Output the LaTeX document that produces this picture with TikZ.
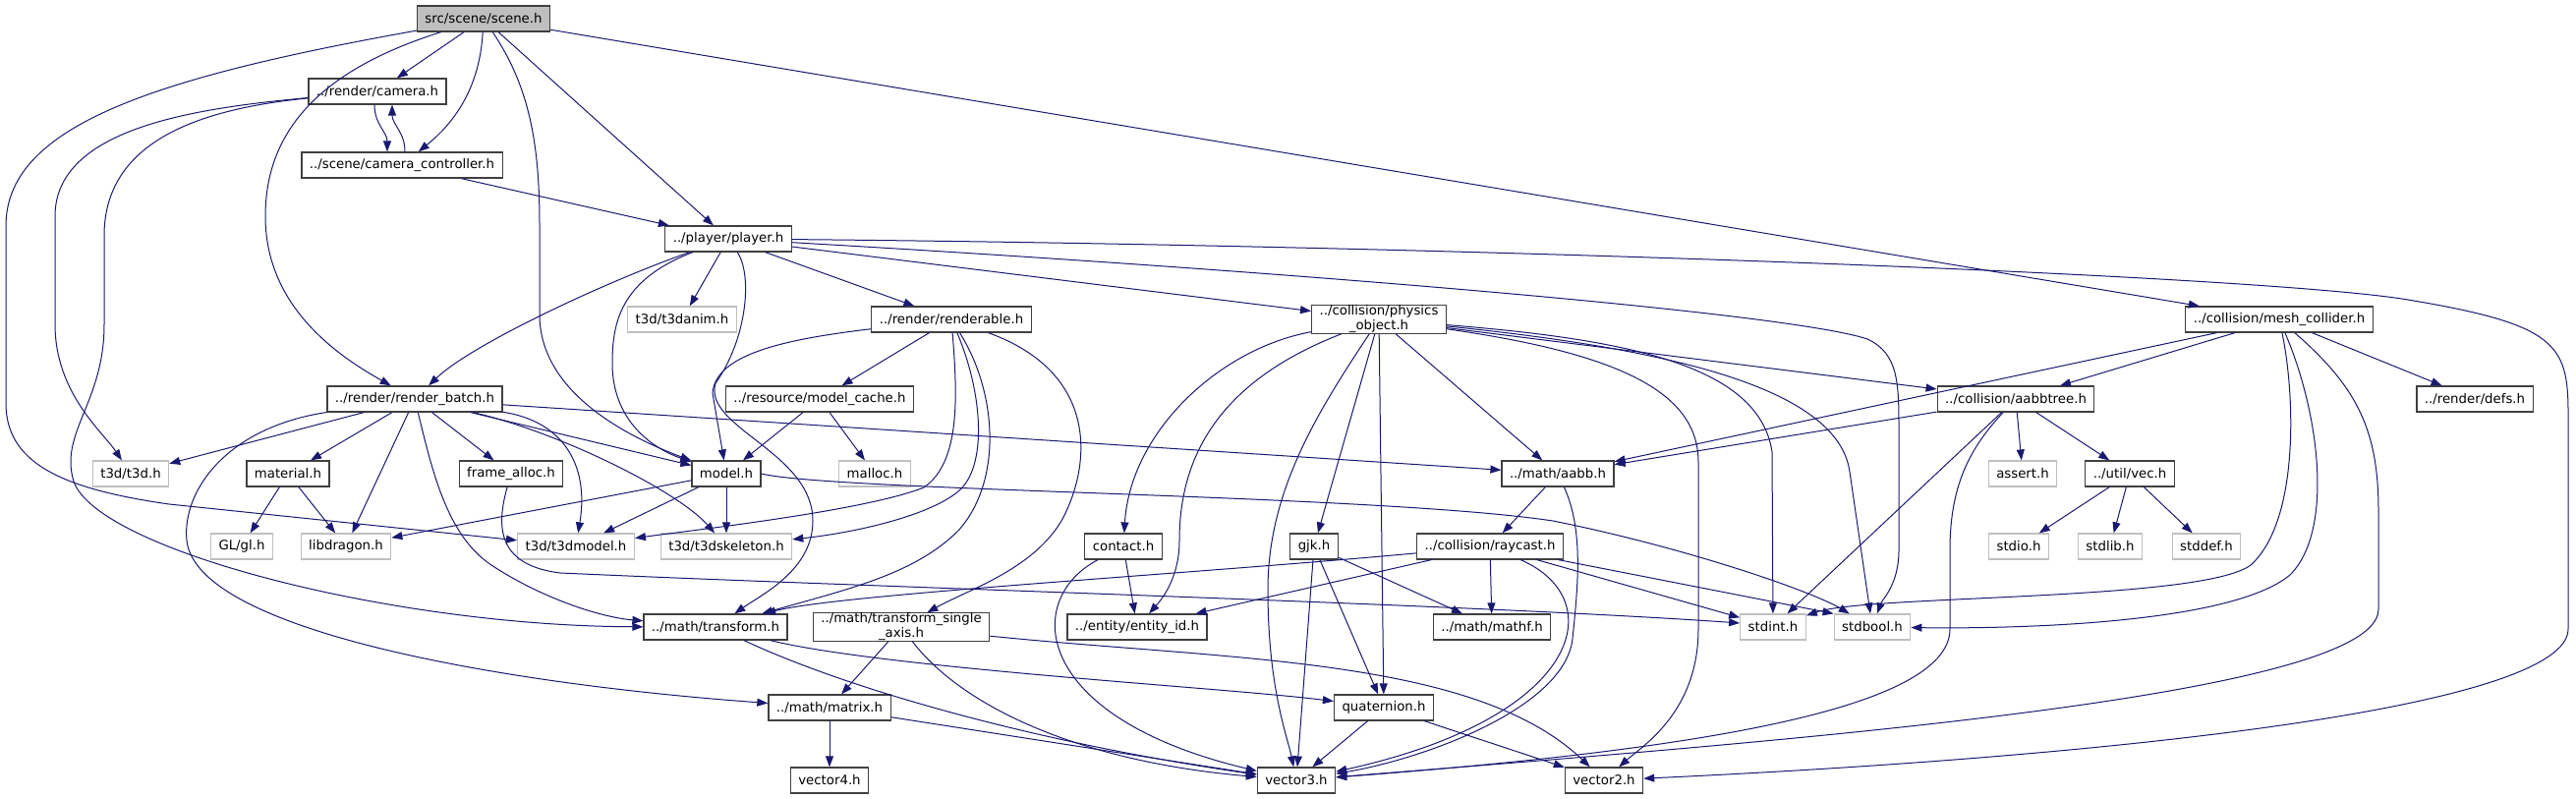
\documentclass[tikz,border=0pt]{standalone}
\usepackage{fontspec}
\newfontfamily\doxfont{DejaVu Sans}
\usetikzlibrary{arrows.meta}
\definecolor{edgeblue}{HTML}{191970}
\definecolor{boxgray}{HTML}{BFBFBF}
\definecolor{boxline}{HTML}{404040}
\tikzset{
  hdr/.style={rectangle,draw=boxline,line width=1.2pt,fill=white,align=center,
    font=\doxfont\fontsize{13.3}{15}\selectfont,inner xsep=8pt,inner ysep=0pt,minimum height=26pt},
  syshdr/.style={hdr,draw=boxgray},
  roothdr/.style={hdr,fill=boxgray},
  dep/.style={draw=edgeblue,line width=1pt,-{Triangle[length=11pt,width=8pt]}}
}
\begin{document}
\begin{tikzpicture}[x=1pt,y=-1pt]
\useasboundingbox (0,0) rectangle (2621,813);
\node[roothdr] (scene) at (492,19) {src/scene/scene.h};
\node[hdr] (camera) at (384,93) {../render/camera.h};
\node[hdr] (camctrl) at (409,168) {../scene/camera\_controller.h};
\node[hdr] (player) at (741,243) {../player/player.h};
\node[syshdr] (t3danim) at (694,325) {t3d/t3danim.h};
\node[hdr] (renderable) at (968,325) {../render/renderable.h};
\node[hdr] (physobj) at (1403,325) {../collision/physics\\\_object.h};
\node[hdr] (meshcol) at (2319,325) {../collision/mesh\_collider.h};
\node[hdr] (renderbatch) at (422,406) {../render/render\_batch.h};
\node[hdr] (modelcache) at (834,406) {../resource/model\_cache.h};
\node[hdr] (aabbtree) at (2051,406) {../collision/aabbtree.h};
\node[hdr] (defs) at (2518,406) {../render/defs.h};
\node[syshdr] (t3d) at (133,482) {t3d/t3d.h};
\node[hdr] (material) at (293,482) {material.h};
\node[hdr] (framealloc) at (520,482) {frame\_alloc.h};
\node[hdr] (model) at (739,482) {model.h};
\node[syshdr] (malloc) at (890,482) {malloc.h};
\node[hdr] (aabb) at (1585,482) {../math/aabb.h};
\node[syshdr] (assert) at (2058,482) {assert.h};
\node[hdr] (vec) at (2167,482) {../util/vec.h};
\node[syshdr] (gl) at (246,556) {GL/gl.h};
\node[syshdr] (libdragon) at (352,556) {libdragon.h};
\node[syshdr] (t3dmodel) at (586,556) {t3d/t3dmodel.h};
\node[syshdr] (t3dskel) at (739,556) {t3d/t3dskeleton.h};
\node[hdr] (contact) at (1143,556) {contact.h};
\node[hdr] (gjk) at (1337,556) {gjk.h};
\node[hdr] (raycast) at (1516,556) {../collision/raycast.h};
\node[syshdr] (stdio) at (2054,556) {stdio.h};
\node[syshdr] (stdlib) at (2147,556) {stdlib.h};
\node[syshdr] (stddef) at (2245,556) {stddef.h};
\node[hdr] (transform) at (728,638) {../math/transform.h};
\node[hdr] (tsa) at (917,638) {../math/transform\_single\\\_axis.h};
\node[hdr] (entityid) at (1157,638) {../entity/entity\_id.h};
\node[hdr] (mathf) at (1518,638) {../math/mathf.h};
\node[syshdr] (stdint) at (1804,638) {stdint.h};
\node[syshdr] (stdbool) at (1905,638) {stdbool.h};
\node[hdr] (matrix) at (844,720) {../math/matrix.h};
\node[hdr] (quaternion) at (1408,720) {quaternion.h};
\node[hdr] (vector4) at (844,794) {vector4.h};
\node[hdr] (vector3) at (1319,794) {vector3.h};
\node[hdr] (vector2) at (1632,794) {vector2.h};

% scene.h
\draw[dep] (scene) .. controls (150,80) and (6,130) .. (6,230) -- (6,410) .. controls (6,470) and (60,497) .. (172,513) -- (t3dmodel);
\draw[dep] (scene) .. controls (330,70) and (270,130) .. (270,220) .. controls (270,310) and (340,360) .. (renderbatch);
\draw[dep] (scene) -- (camera);
\draw[dep] (scene) .. controls (488,90) and (462,125) .. (camctrl);
\draw[dep] (scene) .. controls (540,90) and (549,150) .. (549,230) -- (549,320) .. controls (549,400) and (640,445) .. (model);
\draw[dep] (scene) -- (player);
\draw[dep] (scene) -- (meshcol);
% camera.h
\draw[dep] ([xshift=-3pt]camera.south) .. controls +(0,20) and +(0,-20) .. ([xshift=-15pt]camctrl.north);
\draw[dep] ([xshift=3pt]camctrl.north) .. controls +(0,-20) and +(0,20) .. ([xshift=15pt]camera.south);
\draw[dep] (camera) .. controls (200,110) and (56,130) .. (56,220) -- (56,330) .. controls (56,400) and (105,440) .. (t3d);
\draw[dep] (camera) .. controls (190,112) and (106,150) .. (106,240) -- (106,330) .. controls (106,410) and (60,440) .. (75,490) .. controls (100,560) and (400,637) .. (transform);
\draw[dep] (camctrl) -- (player);
% player.h
\draw[dep] (player) .. controls (620,285) and (480,350) .. (renderbatch);
\draw[dep] (player) -- (t3danim);
\draw[dep] (player) .. controls (630,285) and (623,330) .. (623,370) .. controls (623,425) and (660,455) .. (model);
\draw[dep] (player) .. controls (766,280) and (760,345) .. (728,390) .. controls (715,435) and (827,460) .. (827,530) .. controls (827,580) and (775,605) .. (transform);
\draw[dep] (player) -- (renderable);
\draw[dep] (player) -- (physobj);
\draw[dep] (player) .. controls (1300,275) and (1820,318) .. (1900,345) .. controls (1932,360) and (1932,390) .. (1932,440) -- (1932,560) .. controls (1932,595) and (1915,610) .. (stdbool);
\draw[dep] (player) .. controls (1500,250) and (2300,280) .. (2450,305) .. controls (2600,330) and (2613,350) .. (2613,420) -- (2613,640) .. controls (2613,720) and (2150,770) .. (vector2);
% renderable.h
\draw[dep] (renderable) -- (modelcache);
\draw[dep] (renderable) .. controls (800,345) and (728,360) .. (725,400) -- (model);
\draw[dep] (renderable) .. controls (974,400) and (978,470) .. (940,496) .. controls (880,520) and (700,540) .. (t3dmodel);
\draw[dep] (renderable) .. controls (1000,400) and (1005,475) .. (975,500) .. controls (945,525) and (870,542) .. (t3dskel);
\draw[dep] (renderable) .. controls (1015,400) and (1020,490) .. (975,540) .. controls (930,585) and (860,600) .. (transform);
\draw[dep] (renderable) .. controls (1120,380) and (1110,475) .. (1080,530) .. controls (1050,580) and (985,600) .. (tsa);
\draw[dep] (modelcache) -- (model);
\draw[dep] (modelcache) -- (malloc);
% render_batch.h
\draw[dep] (renderbatch) -- (t3d);
\draw[dep] (renderbatch) -- (material);
\draw[dep] (renderbatch) -- (libdragon);
\draw[dep] (renderbatch) .. controls (440,480) and (455,545) .. (500,575) .. controls (550,608) and (610,628) .. (transform);
\draw[dep] (renderbatch) -- (framealloc);
\draw[dep] (renderbatch) -- (model);
\draw[dep] (renderbatch) .. controls (570,440) and (690,500) .. (t3dskel);
\draw[dep] (renderbatch) .. controls (570,428) and (600,470) .. (t3dmodel);
\draw[dep] (renderbatch) .. controls (230,435) and (185,500) .. (190,550) .. controls (200,640) and (500,695) .. (matrix);
\draw[dep] (renderbatch) -- (aabb);
\draw[dep] (material) -- (gl);
\draw[dep] (material) -- (libdragon);
\draw[dep] (framealloc) .. controls (505,535) and (505,575) .. (570,583) .. controls (900,598) and (1500,615) .. ([yshift=4pt]stdint.west);
% model.h
\draw[dep] (model) -- (libdragon);
\draw[dep] (model) -- (t3dmodel);
\draw[dep] (model) -- (t3dskel);
\draw[dep] (model.east) .. controls (850,500) and (1400,503) .. (1580,530) .. controls (1710,556) and (1840,600) .. (stdbool);
% aabb.h, raycast.h
\draw[dep] (aabb) -- (raycast);
\draw[dep] (aabb) .. controls (1612,540) and (1605,600) .. (1600,650) .. controls (1592,720) and (1450,772) .. (vector3);
\draw[dep] (raycast) .. controls (1200,585) and (850,605) .. (transform);
\draw[dep] (raycast) -- (entityid);
\draw[dep] (raycast) -- (mathf);
\draw[dep] (raycast) .. controls (1640,610) and (1610,730) .. (vector3);
\draw[dep] (raycast) -- (stdint);
\draw[dep] (raycast) -- (stdbool.north west);
% physics_object.h
\draw[dep] (physobj) .. controls (1240,355) and (1150,440) .. (contact);
\draw[dep] (physobj) .. controls (1235,390) and (1200,470) .. (1200,550) .. controls (1200,590) and (1180,612) .. (entityid);
\draw[dep] (physobj) .. controls (1340,420) and (1290,500) .. (1290,600) .. controls (1290,700) and (1310,750) .. (vector3);
\draw[dep] (physobj) -- (gjk);
\draw[dep] (physobj) -- (quaternion);
\draw[dep] (physobj) -- (aabb);
\draw[dep] (physobj) -- (aabbtree);
\draw[dep] (physobj) .. controls (1650,345) and (1790,370) .. (1803,460) -- (stdint);
\draw[dep] (physobj) .. controls (1700,355) and (1870,395) .. (1882,480) -- (stdbool);
\draw[dep] (physobj) .. controls (1650,360) and (1728,400) .. (1728,470) -- (1728,640) .. controls (1728,725) and (1670,760) .. (vector2);
% aabbtree.h, mesh_collider.h
\draw[dep] (aabbtree) -- (aabb);
\draw[dep] (aabbtree) -- (stdint);
\draw[dep] (aabbtree) .. controls (2000,460) and (1984,500) .. (1984,560) -- (1984,640) .. controls (1984,725) and (1700,765) .. (vector3);
\draw[dep] (aabbtree) -- (assert);
\draw[dep] (aabbtree) -- (vec);
\draw[dep] (meshcol) -- (aabb);
\draw[dep] (meshcol) -- (aabbtree);
\draw[dep] (meshcol) -- (defs);
\draw[dep] (meshcol) .. controls (2335,400) and (2340,530) .. (2290,575) .. controls (2240,612) and (1900,605) .. (stdint);
\draw[dep] (meshcol) .. controls (2360,420) and (2375,540) .. (2330,585) .. controls (2270,635) and (2050,640) .. (stdbool);
\draw[dep] (meshcol) .. controls (2400,395) and (2420,440) .. (2420,520) -- (2420,620) .. controls (2420,710) and (1800,755) .. (vector3);
\draw[dep] (vec) -- (stdio);
\draw[dep] (vec) -- (stdlib);
\draw[dep] (vec) -- (stddef);
% math
\draw[dep] (transform) .. controls (900,680) and (1250,700) .. (quaternion);
\draw[dep] (transform) .. controls (860,700) and (1050,755) .. (vector3);
\draw[dep] (tsa) -- (matrix);
\draw[dep] (tsa) .. controls (980,720) and (1100,775) .. (vector3);
\draw[dep] (tsa) .. controls (1250,672) and (1500,668) .. (vector2);
\draw[dep] (matrix) -- (vector4);
\draw[dep] (matrix) -- (vector3);
\draw[dep] (contact) -- (entityid);
\draw[dep] (contact) .. controls (1040,610) and (1050,730) .. (vector3);
\draw[dep] (gjk) -- (vector3);
\draw[dep] (gjk) -- (quaternion);
\draw[dep] (gjk) -- (mathf);
\draw[dep] (quaternion) -- (vector3);
\draw[dep] (quaternion) -- (vector2);
\end{tikzpicture}
\end{document}
